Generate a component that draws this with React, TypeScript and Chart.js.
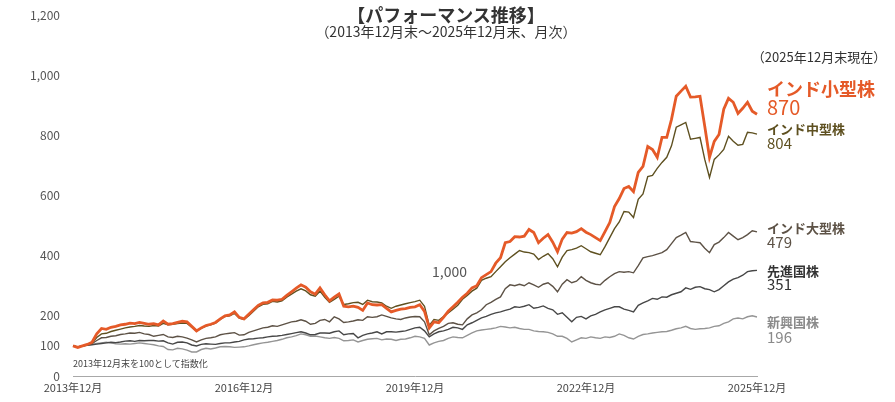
import React, { useEffect, useRef } from "react";
import { Chart, registerables } from "chart.js";

Chart.register(...registerables);

// Monthly categories: 2013年12月 ... 2025年12月 (145 months)
const months: string[] = [];
for (let i = 0; i <= 144; i++) {
  const m = ((11 + i) % 12) + 1;
  const y = 2013 + Math.floor((11 + i) / 12);
  months.push(`${y}年${m}月`);
}

const xTickLabels = ["2013年12月", "2016年12月", "2019年12月", "2022年12月", "2025年12月"];
const yTicks = [0, 100, 200, 400, 600, 800, 1000, 1200];

const indiaSmall = [
  100, 95, 100, 105, 112, 140, 158, 155, 162, 165, 170, 172,
  176, 174, 178, 175, 172, 174, 170, 183, 172, 174, 178, 182,
  180, 165, 150, 160, 168, 172, 178, 190, 200, 203, 213, 195,
  190, 205, 220, 235, 243, 245, 253, 252, 255, 268, 280, 292,
  303, 295, 280, 272, 293, 270, 250, 262, 273, 232, 230, 232,
  228, 218, 243, 237, 236, 237, 225, 213, 218, 222, 224, 228,
  230, 237, 215, 160, 180, 177, 195, 215, 230, 245, 262, 275,
  293, 300, 327, 337, 347, 375, 393, 443, 447, 463, 462, 465,
  487, 477, 443, 458, 470, 445, 413, 455, 477, 475, 480, 490,
  478, 470, 460, 450, 480, 510, 563, 590, 623, 630, 613, 677,
  697, 763, 753, 727, 793, 793, 853, 930, 947, 963, 927, 928,
  930, 830, 727, 780, 803, 887, 923, 910, 873, 890, 910, 880,
  870,
];

const indiaMid = [
  100, 96, 100, 104, 110, 128, 140, 142, 148, 152, 156, 160,
  163, 165, 168, 166, 165, 168, 166, 175, 170, 172, 174, 176,
  175, 162, 150, 158, 166, 170, 176, 188, 198, 200, 208, 192,
  188, 200, 215, 230, 238, 240, 248, 246, 250, 262, 272, 282,
  290, 283, 270, 265, 282, 262, 245, 255, 265, 238, 240, 244,
  245, 238, 252, 247, 246, 243, 232, 225, 232, 236, 240, 244,
  247, 252, 232, 168, 188, 185, 198, 210, 222, 235, 255, 268,
  282, 292, 318, 325, 330, 347, 363, 380, 393, 405, 417, 412,
  410, 405, 387, 398, 407, 390, 363, 395, 417, 420, 425, 433,
  423, 413, 408, 403, 430, 460, 490, 512, 547, 545, 527, 587,
  605, 663, 667, 690, 710, 727, 765, 827, 835, 843, 787, 790,
  793, 720, 660, 720, 735, 753, 797, 780, 767, 770, 810, 808,
  804,
];

const indiaLarge = [
  100, 97, 100, 103, 108, 118, 127, 128, 132, 134, 138, 140,
  143, 142, 145, 140, 138, 132, 135, 138, 130, 128, 132, 130,
  126, 120, 113, 120, 125, 127, 130, 137, 140, 142, 144, 136,
  137, 145, 150, 155, 160, 162, 167, 165, 170, 175, 180, 182,
  187, 182, 172, 175, 185, 188, 180, 197, 190, 178, 180, 183,
  187, 185, 197, 195, 197, 203, 198, 193, 190, 188, 193, 196,
  198, 197, 180, 137, 150, 158, 165, 175, 177, 172, 170, 190,
  203, 210, 220, 237, 245, 255, 263, 290, 303, 300, 305, 300,
  310, 303, 295, 305, 310, 298, 280, 305, 320, 310, 315, 330,
  318, 310, 305, 303, 318, 330, 340, 347, 345, 347, 343, 367,
  393, 397, 400, 405, 410, 420, 440, 460, 468, 477, 447, 445,
  443, 425, 410, 437, 445, 460, 477, 465, 453, 460, 470, 483,
  479,
];

const developed = [
  100, 97, 100, 102, 104, 106, 108, 110, 112, 111, 113, 116,
  117, 115, 118, 117, 118, 118, 116, 117, 110, 106, 112, 113,
  110, 103, 100, 105, 107, 106, 105, 108, 110, 110, 113, 115,
  120, 123, 124, 126, 127, 130, 132, 133, 135, 138, 141, 144,
  147, 143, 137, 138, 143, 143, 142, 147, 150, 137, 140, 141,
  127, 135, 140, 143, 147, 140, 147, 147, 146, 148, 150, 155,
  160, 162, 150, 130, 140, 147, 150, 155, 162, 160, 155, 170,
  177, 185, 193, 198, 205, 210, 213, 218, 222, 230, 228, 232,
  237, 225, 228, 233, 225, 220, 205, 210, 195, 180, 195, 198,
  190, 200, 205, 213, 220, 225, 230, 230, 222, 218, 213, 235,
  243, 250, 258, 255, 263, 262, 270, 275, 280, 293, 288, 295,
  297, 290, 287, 280, 287, 300, 313, 322, 327, 335, 347, 350,
  351,
];

const emerging = [
  100, 96, 100, 103, 105, 108, 110, 112, 110, 107, 106, 107,
  106, 108, 110, 108, 106, 104, 100, 98, 88, 87, 92, 90,
  86, 80, 80, 88, 92, 90, 93, 97, 98, 97, 95, 96,
  97, 100, 104, 107, 110, 112, 115, 118, 122, 127, 130, 134,
  140, 137, 132, 133, 130, 127, 125, 128, 125, 117, 118, 120,
  113, 118, 122, 124, 125, 120, 123, 122, 118, 122, 123, 127,
  132, 130, 125, 103, 110, 115, 118, 125, 130, 128, 127, 135,
  143, 150, 153, 155, 157, 160, 165, 163, 160, 162, 158, 155,
  155, 150, 148, 147, 145, 140, 132, 132, 125, 113, 120, 127,
  125, 130, 127, 125, 130, 128, 132, 140, 135, 127, 123, 132,
  138, 140, 143, 145, 147, 148, 152, 157, 160, 165, 158, 155,
  157, 158, 160, 165, 167, 175, 180, 190, 193, 190, 197, 200,
  196,
];

const seriesNames = ["インド小型株", "インド中型株", "インド大型株", "先進国株", "新興国株"];
const lastValues = ["870", "804", "479", "351", "196"];

const FONT = "'Noto Sans CJK JP', 'Noto Sans', sans-serif";

const C_SMALL = "#e55a28";
const C_MID = "#5e5020";
const C_LARGE = "#5d5246";
const C_DEV = "#474747";
const C_EM = "#959595";

function Txt(props: {
  x: number;
  y: number;
  size: number;
  color: string;
  bold?: boolean;
  center?: boolean;
  children: React.ReactNode;
}) {
  const { x, y, size, color, bold, center, children } = props;
  return (
    <div
      style={{
        position: "absolute",
        left: center ? x - 300 : x,
        width: center ? 600 : undefined,
        textAlign: center ? "center" : "left",
        top: y - size / 2,
        fontSize: size,
        lineHeight: `${size}px`,
        color,
        fontWeight: bold ? 700 : 400,
        fontFamily: FONT,
        whiteSpace: "nowrap",
      }}
    >
      {children}
    </div>
  );
}

export default function App() {
  const ref = useRef<HTMLCanvasElement | null>(null);

  useEffect(() => {
    if (!ref.current) return;
    Chart.defaults.font.family = FONT;
    const chart = new Chart(ref.current, {
      type: "line",
      data: {
        labels: months,
        datasets: [
          { label: seriesNames[0], data: indiaSmall, borderColor: C_SMALL, borderWidth: 2.8 },
          { label: seriesNames[1], data: indiaMid, borderColor: C_MID, borderWidth: 1.4 },
          { label: seriesNames[2], data: indiaLarge, borderColor: C_LARGE, borderWidth: 1.4 },
          { label: seriesNames[3], data: developed, borderColor: C_DEV, borderWidth: 1.4 },
          { label: seriesNames[4], data: emerging, borderColor: C_EM, borderWidth: 1.4 },
        ].map((d) => ({ ...d, pointRadius: 0, tension: 0, fill: false })),
      },
      options: {
        responsive: false,
        animation: false,
        devicePixelRatio: 1,
        layout: { padding: { left: 0, right: 138, top: 15, bottom: 0 } },
        plugins: { legend: { display: false }, tooltip: { enabled: false } },
        scales: {
          x: {
            grid: { display: false, drawTicks: false },
            border: { display: true, color: "#a8a8a8", width: 1 },
            ticks: {
              autoSkip: false,
              maxRotation: 0,
              minRotation: 0,
              padding: 5,
              color: "#444",
              font: { size: 11 },
              callback: function (this: any, val: any) {
                const lab = this.getLabelForValue(val);
                return xTickLabels.includes(lab) ? lab : null;
              },
            },
            afterFit: (s: any) => {
              s.height = 26;
            },
          },
          y: {
            min: 0,
            max: 1200,
            grid: { display: false, drawTicks: false },
            border: { display: false },
            ticks: {
              padding: 13,
              color: "#555",
              font: { size: 12 },
              callback: (v: any) => Number(v).toLocaleString("en-US"),
            },
            afterBuildTicks: (s: any) => {
              s.ticks = yTicks.map((v) => ({ value: v }));
            },
            afterFit: (s: any) => {
              s.width = 73;
              s.paddingTop = 0;
              s.paddingBottom = 0;
            },
          },
        },
      },
    });
    return () => chart.destroy();
  }, []);

  return (
    <div style={{ position: "absolute", left: 0, top: 0, width: 895, height: 402, background: "#fff", overflow: "hidden" }}>
      <canvas ref={ref} width={895} height={402} style={{ position: "absolute", left: 0, top: 0 }} />
      <Txt x={446} y={14} size={18} color="#333" bold center>【パフォーマンス推移】</Txt>
      <Txt x={446} y={31} size={14} color="#333" center>（2013年12月末～2025年12月末、月次）</Txt>
      <Txt x={819} y={56} size={13} color="#333" center>（2025年12月末現在）</Txt>

      <Txt x={767} y={88} size={18} color={C_SMALL} bold>{seriesNames[0]}</Txt>
      <Txt x={767} y={107} size={20} color={C_SMALL}>{lastValues[0]}</Txt>
      <Txt x={767} y={128} size={13} color={C_MID} bold>{seriesNames[1]}</Txt>
      <Txt x={767} y={142} size={15} color={C_MID}>{lastValues[1]}</Txt>
      <Txt x={767} y={227} size={13} color={C_LARGE} bold>{seriesNames[2]}</Txt>
      <Txt x={767} y={241} size={15} color={C_LARGE}>{lastValues[2]}</Txt>
      <Txt x={767} y={270} size={13} color="#333" bold>{seriesNames[3]}</Txt>
      <Txt x={767} y={283} size={15} color="#333">{lastValues[3]}</Txt>
      <Txt x={767} y={321} size={13} color="#8a8a8a" bold>{seriesNames[4]}</Txt>
      <Txt x={767} y={336} size={15} color="#8a8a8a">{lastValues[4]}</Txt>

      <Txt x={432} y={271} size={14} color="#555">1,000</Txt>
      <Txt x={73} y={363} size={9} color="#444">2013年12月末を100として指数化</Txt>
    </div>
  );
}
